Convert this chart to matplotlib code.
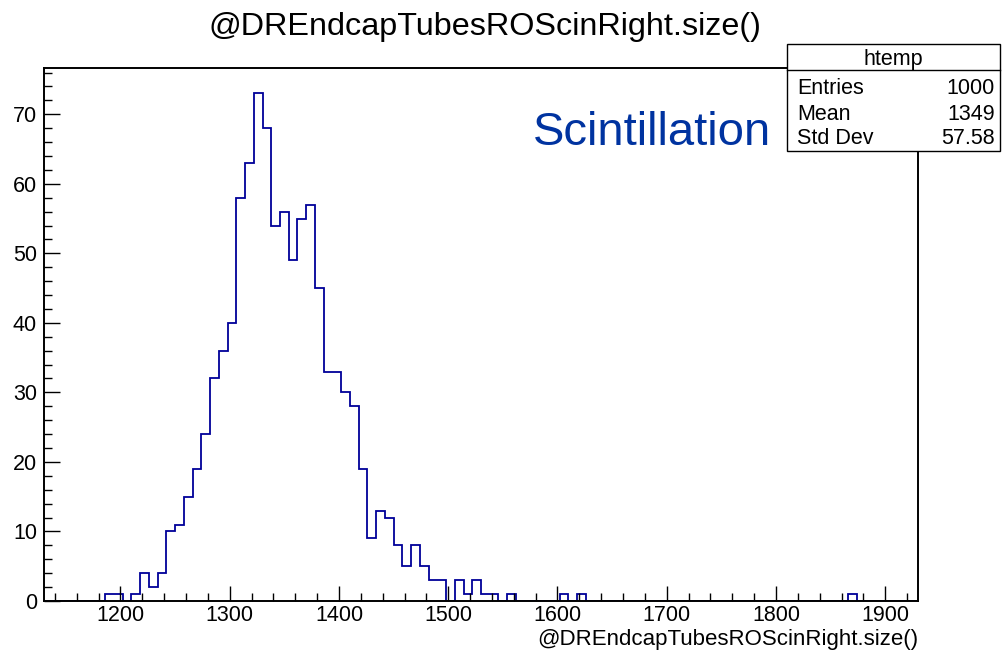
import matplotlib
matplotlib.use("Agg")
import matplotlib.pyplot as plt
from matplotlib.ticker import MultipleLocator
from matplotlib.patches import Rectangle
import numpy as np

plt.rcParams['font.family'] = ['Liberation Sans', 'DejaVu Sans']

# ---- data ----
x_min = 1130
bin_width = 8
n_bins = 100
counts = [0, 0, 0, 0, 0, 0, 0, 1, 1, 0,
          1, 4, 2, 4, 10, 11, 15, 19, 24, 32,
          36, 40, 58, 63, 73, 68, 54, 56, 49, 55,
          57, 45, 33, 33, 30, 28, 19, 9, 13, 12,
          8, 5, 8, 5, 3, 3, 0, 3, 1, 3,
          1, 1, 0, 1, 0, 0, 0, 0, 0, 1,
          0, 1, 0, 0, 0, 0, 0, 0, 0, 0,
          0, 0, 0, 0, 0, 0, 0, 0, 0, 0,
          0, 0, 0, 0, 0, 0, 0, 0, 0, 0,
          0, 0, 1, 0, 0, 0, 0, 0, 0, 0]
x_ticks = [1200, 1300, 1400, 1500, 1600, 1700, 1800, 1900]
y_ticks = [0, 10, 20, 30, 40, 50, 60, 70]
title = "@DREndcapTubesROScinRight.size()"
x_label = "@DREndcapTubesROScinRight.size()"
annotation = "Scintillation"
stats_name = "htemp"
stats_labels = ["Entries", "Mean", "Std Dev"]
stats_values = ["1000", "1349", "57.58"]

edges = x_min + bin_width * np.arange(n_bins + 1)

W, H = 1002, 650
fig = plt.figure(figsize=(W / 100, H / 100), dpi=100)
fig.patch.set_facecolor('white')

L, R, T, B = 44, 918, 68, 601
ax = fig.add_axes([L / W, 1 - B / H, (R - L) / W, (B - T) / H])
ax.stairs(counts, edges, color='#000099', lw=1.3, zorder=1)
ax.set_xlim(edges[0], edges[-1])
ax.set_ylim(0, max(counts) * 1.05)

ax.set_xticks(x_ticks)
ax.set_yticks(y_ticks)
ax.xaxis.set_minor_locator(MultipleLocator(20))
ax.yaxis.set_minor_locator(MultipleLocator(2))
ax.tick_params(which='both', direction='in', top=False, right=False,
               labelsize=15.5, width=1.0, color='black')
ax.tick_params(axis='x', which='major', length=11, pad=3)
ax.tick_params(axis='x', which='minor', length=5.5)
ax.tick_params(axis='y', which='major', length=11.5, pad=5)
ax.tick_params(axis='y', which='minor', length=5.5)
for s in ax.spines.values():
    s.set_linewidth(1.4)
    s.set_zorder(3)

fig.text(485 / W, 1 - 27 / H, title, ha='center', va='center', fontsize=23.3)
fig.text(R / W, 1 - 639 / H, x_label, ha='right', va='center', fontsize=16)
fig.text(533 / W, 1 - 133 / H, annotation, ha='left', va='center',
         fontsize=34, color='#0033a0')

# stats box
bx0, bx1, by0, by1, bsep = 787, 1000, 44, 151, 70
fig.patches.append(Rectangle((bx0 / W, 1 - by1 / H), (bx1 - bx0) / W, (by1 - by0) / H,
                             transform=fig.transFigure, facecolor='white',
                             edgecolor='black', lw=1.0, zorder=5))
fig.lines.append(plt.Line2D([bx0 / W, bx1 / W], [1 - bsep / H, 1 - bsep / H],
                            transform=fig.transFigure, color='black', lw=1.0, zorder=6))
fig.text((bx0 + bx1) / 2 / W, 1 - 59 / H, stats_name, ha='center', va='center',
         fontsize=15.5, zorder=7)
rows_y = [89, 114, 139]
for lab, val, yy in zip(stats_labels, stats_values, rows_y):
    fig.text(797 / W, 1 - yy / H, lab, ha='left', va='center', fontsize=15.5, zorder=7)
    fig.text(995 / W, 1 - yy / H, val, ha='right', va='center', fontsize=15.5, zorder=7)

fig.savefig("out.png", dpi=100, facecolor='white')
